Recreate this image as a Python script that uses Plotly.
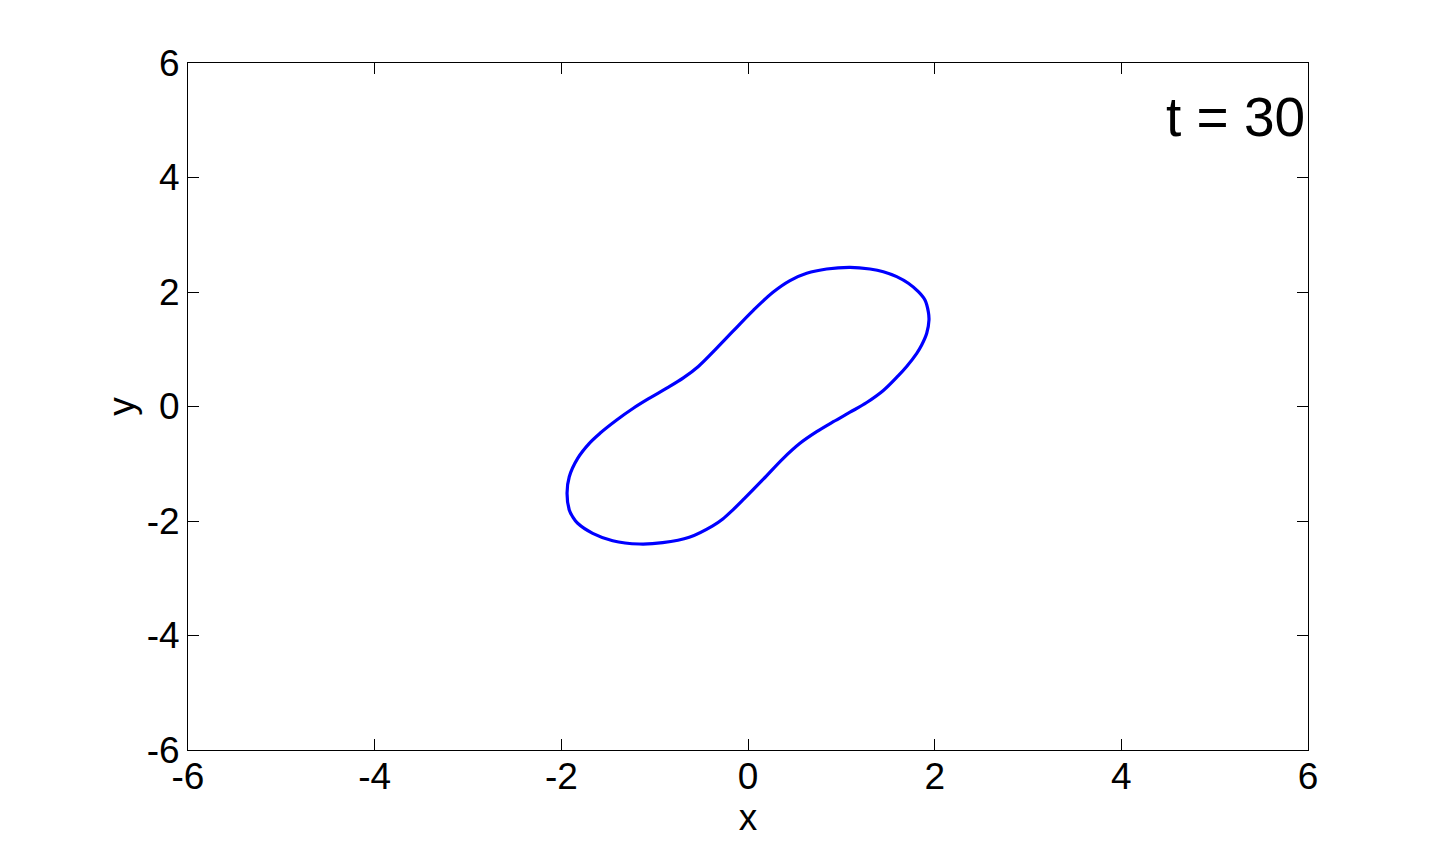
"""Closed interface curve at t = 30, MATLAB-style box axes."""

import plotly.graph_objects as go

# Curve points (clockwise from the top)
curve_x = [
    1.093, 1.307, 1.450, 1.593, 1.718, 1.825, 1.896, 1.932, 1.939, 1.915,
    1.861, 1.808, 1.700, 1.611, 1.450, 1.272, 1.093, 0.914, 0.736, 0.557,
    0.378, 0.164, -0.040, -0.164, -0.270, -0.378, -0.629, -0.914, -1.165, -1.450,
    -1.664, -1.825, -1.879, -1.915, -1.939, -1.915, -1.825, -1.700, -1.586, -1.407,
    -1.229, -1.050, -0.871, -0.693, -0.532, -0.335, -0.158, 0.057, 0.271, 0.450,
    0.629, 0.843, 1.093,
]
curve_y = [
    2.431, 2.402, 2.355, 2.268, 2.152, 2.005, 1.860, 1.656, 1.511, 1.279,
    1.074, 0.929, 0.700, 0.540, 0.280, 0.070, -0.100, -0.266, -0.440, -0.643,
    -0.905, -1.270, -1.610, -1.810, -1.965, -2.085, -2.285, -2.379, -2.402, -2.344,
    -2.215, -2.040, -1.925, -1.808, -1.516, -1.226, -0.905, -0.643, -0.468, -0.236,
    -0.031, 0.150, 0.320, 0.500, 0.700, 1.020, 1.320, 1.680, 2.000, 2.200,
    2.327, 2.402, 2.431,
]

tick_vals = [-6, -4, -2, 0, 2, 4, 6]
tick_text = ["-6", "-4", "-2", "0", "2", "4", "6"]
time_label = "t = 30"

FONT = "Liberation Sans, Arial, sans-serif"


def build_figure() -> go.Figure:
    fig = go.Figure()

    fig.add_trace(
        go.Scatter(
            x=curve_x,
            y=curve_y,
            mode="lines",
            line=dict(color="#0000FF", width=3.2, shape="spline", smoothing=1.0),
            showlegend=False,
            hoverinfo="skip",
        )
    )

    axis_common = dict(
        range=[-6, 6],
        tickvals=tick_vals,
        ticktext=tick_text,
        ticks="inside",
        ticklen=11,
        tickwidth=1,
        tickcolor="black",
        showline=True,
        linecolor="black",
        linewidth=1,
        mirror="ticks",
        showgrid=False,
        zeroline=False,
        tickfont=dict(family=FONT, size=37, color="black"),
    )

    # the page body adds an 8px offset, so margins are trimmed to match
    fig.update_layout(
        width=1437,
        height=835,
        paper_bgcolor="white",
        plot_bgcolor="white",
        margin=dict(l=180, r=137, t=55, b=93),
        font=dict(family=FONT, color="black"),
        xaxis=dict(
            **axis_common,
            ticklabelstandoff=-6,
            title=dict(text="x", font=dict(family=FONT, size=37), standoff=0),
        ),
        yaxis=dict(
            **axis_common,
            title=dict(text="y", font=dict(family=FONT, size=37), standoff=0),
        ),
    )

    # Time stamp in the top-right corner of the axes
    fig.add_annotation(
        text=time_label,
        xref="paper",
        yref="paper",
        x=1,
        y=0.921,
        xanchor="right",
        yanchor="middle",
        xshift=-1,
        showarrow=False,
        font=dict(family=FONT, size=55, color="black"),
    )
    return fig


fig = build_figure()
fig.write_html("out.html")
